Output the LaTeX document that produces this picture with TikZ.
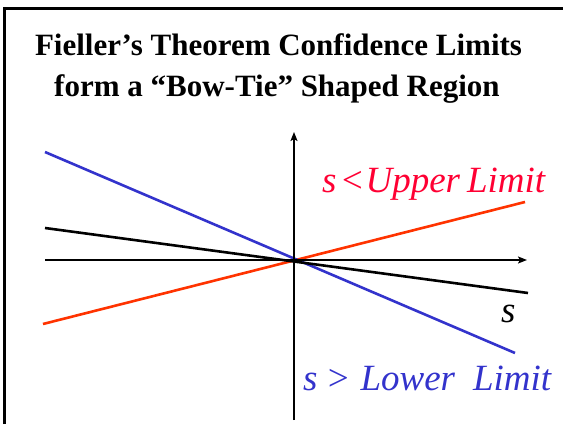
\documentclass[tikz,border=0pt]{standalone}
\usepackage{fontspec}
\setmainfont{Liberation Serif}
\usetikzlibrary{arrows.meta}
\definecolor{lred}{RGB}{255,51,0}
\definecolor{tred}{RGB}{255,0,51}
\definecolor{lblue}{RGB}{51,51,204}
\tikzset{
  axis/.style={line width=1.6pt,-{Stealth[length=9pt,width=7pt,inset=2pt]}},
  bound/.style={line width=2.6pt},
  lbl/.style={inner sep=0pt,anchor=base west,font=\fontsize{37}{40}\selectfont\itshape},
  ttl/.style={inner sep=0pt,anchor=base,font=\fontsize{31}{36}\selectfont\bfseries},
}
\begin{document}
\begin{tikzpicture}[x=1pt,y=1pt]
\useasboundingbox (0,0) rectangle (563,424);
\draw[line width=2.2pt] (4.5,0) -- (4.5,415.5) -- (563,415.5);
\node[ttl] (title1) at (278.5,368) {Fieller’s Theorem Confidence Limits};
\node[ttl] (title2) at (277,327) {form a “Bow-Tie” Shaped Region};
\coordinate (O) at (294,164);
\coordinate (rl) at (43,100);
\coordinate (rr) at (525,222);
\coordinate (bl) at (45,272);
\coordinate (br) at (515,71);
\coordinate (kl) at (45,196);
\coordinate (kr) at (528,131);
\coordinate (xl) at (45,164);
\coordinate (xr) at (527,164);
\coordinate (yb) at (294,4);
\coordinate (yt) at (294,292);
\draw[bound,lred] (rl) -- (rr);
\draw[bound,lblue] (bl) -- (br);
\draw[bound,black] (kl) -- (kr);
\draw[axis] (xl) -- (xr);
\draw[axis] (yb) -- (yt);
\node[lbl,text=tred] (up) at (322,232) {s\hspace{3pt}<\hspace{1pt}Upper\hspace{7pt}Limit};
\node[lbl,text=lblue] (lo) at (303,34) {s\hspace{8pt}>\hspace{10pt}Lower\hspace{18pt}Limit};
\node[lbl] (s) at (501,102) {s};
\end{tikzpicture}
\end{document}
